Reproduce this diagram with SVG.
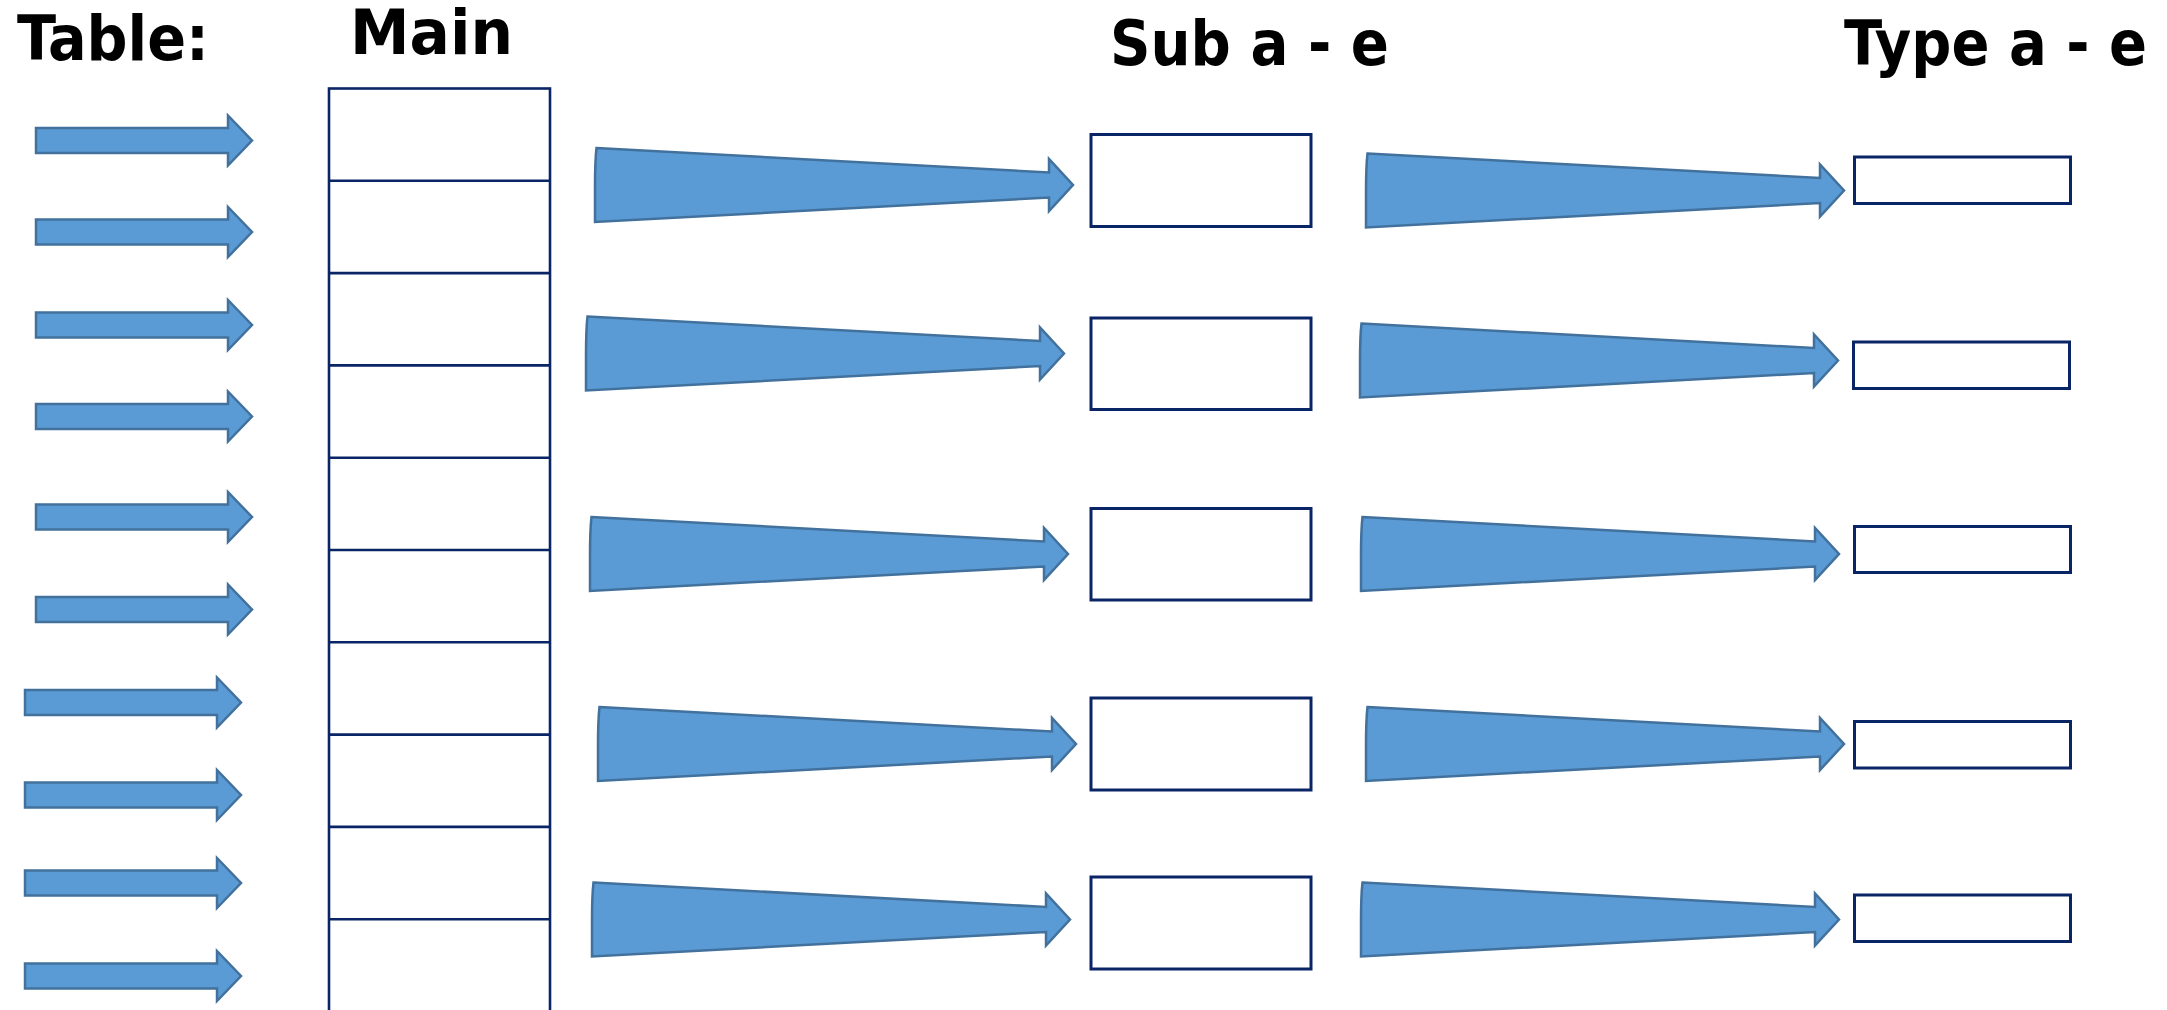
<svg xmlns="http://www.w3.org/2000/svg" xmlns:xlink="http://www.w3.org/1999/xlink" width="2167" height="1010" viewBox="0 0 2167 1010">
<style>
.title{font-family:"DejaVu Sans","Liberation Sans",sans-serif;font-weight:bold;font-size:63px;fill:#000}
.cond{font-family:"DejaVu Sans Condensed","DejaVu Sans","Liberation Sans",sans-serif;font-stretch:condensed}
.box{fill:#fff;stroke:#0A2566;stroke-width:3}
.grid{fill:none;stroke:#0A2566;stroke-width:2.6}
.arr{fill:#5B9BD5;stroke:#41719C;stroke-width:2.5;stroke-linejoin:miter}
</style>
<defs>
<path id="block" d="M0,-12.5 H192 V-25 L216,0 L192,25 V12.5 H0 Z"/>
<path id="taper" d="M1.5,-37 L454,-12.5 L454,-26 L478,0 L454,26 L454,12.5 L0,37 L0,2 Q0,-24 1.5,-37 Z"/>
</defs>
<rect width="2167" height="1010" fill="#fff"/>
<g id="titles">
<text class="title cond" x="17" y="60" textLength="192" lengthAdjust="spacingAndGlyphs">Table:</text>
<text class="title" x="350" y="54" font-size="61" textLength="163" lengthAdjust="spacingAndGlyphs">Main</text>
<text class="title cond" x="1110" y="65" textLength="279" lengthAdjust="spacingAndGlyphs">Sub a - e</text>
<text class="title cond" x="1844" y="65" textLength="303" lengthAdjust="spacingAndGlyphs">Type a - e</text>
</g>
<g id="main-table">
<rect class="grid" x="329" y="88.5" width="221" height="940"/>
<path class="grid" d="M329,180.8 H550 M329,273.1 H550 M329,365.4 H550 M329,457.7 H550 M329,550 H550 M329,642.3 H550 M329,734.6 H550 M329,826.9 H550 M329,919.2 H550"/>
</g>
<g id="sub-boxes">
<rect id="sub1" class="box" x="1091" y="134.5" width="220" height="92"/>
<rect id="sub2" class="box" x="1091" y="318" width="220" height="91.5"/>
<rect id="sub3" class="box" x="1091" y="508.5" width="220" height="91.5"/>
<rect id="sub4" class="box" x="1091" y="698" width="220" height="92"/>
<rect id="sub5" class="box" x="1091" y="877" width="220" height="92"/>
</g>
<g id="type-boxes">
<rect id="type1" class="box" x="1854.5" y="157" width="216" height="46.5"/>
<rect id="type2" class="box" x="1853.5" y="342" width="216" height="46.5"/>
<rect id="type3" class="box" x="1854.5" y="526.5" width="216" height="46"/>
<rect id="type4" class="box" x="1854.5" y="721.5" width="216" height="46.5"/>
<rect id="type5" class="box" x="1854.5" y="895" width="216" height="46.5"/>
</g>
<g id="connectors">
<use class="arr" xlink:href="#block" x="36" y="140.5"/>
<use class="arr" xlink:href="#block" x="36" y="232"/>
<use class="arr" xlink:href="#block" x="36" y="325"/>
<use class="arr" xlink:href="#block" x="36" y="416.5"/>
<use class="arr" xlink:href="#block" x="36" y="517"/>
<use class="arr" xlink:href="#block" x="36" y="609.5"/>
<use class="arr" xlink:href="#block" x="25" y="702.5"/>
<use class="arr" xlink:href="#block" x="25" y="795"/>
<use class="arr" xlink:href="#block" x="25" y="883"/>
<use class="arr" xlink:href="#block" x="25" y="976"/>
<use class="arr" xlink:href="#taper" x="595" y="185"/>
<use class="arr" xlink:href="#taper" x="586" y="353.5"/>
<use class="arr" xlink:href="#taper" x="590" y="554"/>
<use class="arr" xlink:href="#taper" x="598" y="744"/>
<use class="arr" xlink:href="#taper" x="592" y="919.5"/>
<use class="arr" xlink:href="#taper" x="1366" y="190.5"/>
<use class="arr" xlink:href="#taper" x="1360" y="360.5"/>
<use class="arr" xlink:href="#taper" x="1361" y="554"/>
<use class="arr" xlink:href="#taper" x="1366" y="744"/>
<use class="arr" xlink:href="#taper" x="1361" y="919.5"/>
</g>
</svg>
